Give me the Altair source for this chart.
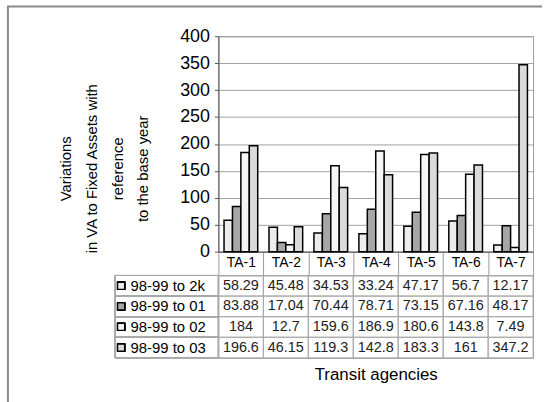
import altair as alt
import pandas as pd

# Transit agencies and the four comparison periods
agencies = ["TA-1", "TA-2", "TA-3", "TA-4", "TA-5", "TA-6", "TA-7"]
periods = ["98-99 to 2k", "98-99 to 01", "98-99 to 02", "98-99 to 03"]

# Variation in VA to fixed assets, per agency, for each period
v_2k = [58.29, 45.48, 34.53, 33.24, 47.17, 56.7, 12.17]
v_01 = [83.88, 17.04, 70.44, 78.71, 73.15, 67.16, 48.17]
v_02 = [184, 12.7, 159.6, 186.9, 180.6, 143.8, 7.49]
v_03 = [196.6, 46.15, 119.3, 142.8, 183.3, 161, 347.2]

y_ticks = [0, 50, 100, 150, 200, 250, 300, 350, 400]
fills = ["#ececec", "#a6a6a6", "#f6f6f6", "#dadada"]

rows = []
for period, vals in zip(periods, [v_2k, v_01, v_02, v_03]):
    for agency, v in zip(agencies, vals):
        rows.append({"agency": agency, "period": period, "value": v, "label": f"{v:g}"})
df = pd.DataFrame(rows)

FONT = "Liberation Sans, Arial, sans-serif"
W, H = 317, 217
TABLE_H = 83

fill_scale = alt.Scale(domain=periods, range=fills)

bars = alt.Chart(df).mark_bar(stroke="black", strokeWidth=1.5).encode(
    x=alt.X(
        "agency:N", sort=agencies,
        scale=alt.Scale(paddingInner=0, paddingOuter=0),
        axis=alt.Axis(
            title=None, labelAngle=0, tickBand="extent", tickSize=24,
            tickColor="#9a9a9a", labelPadding=-20, labelFontSize=14,
            labelFont=FONT, labelColor="black", domainColor="#555",
            labelBaseline="top",
        ),
    ),
    xOffset=alt.XOffset("period:N", sort=periods,
                        scale=alt.Scale(paddingInner=0, paddingOuter=0.67)),
    y=alt.Y(
        "value:Q",
        scale=alt.Scale(domain=[0, 400], nice=False),
        axis=alt.Axis(
            values=y_ticks, labelFontSize=18, labelFont=FONT, labelColor="black",
            tickSize=4, tickColor="#555", domainColor="#555", labelPadding=5,
            gridColor="#a0a0a0", gridWidth=1,
            title=["Variations", "in VA to Fixed Assets with", "reference", "to the base year"],
            titleFont=FONT, titleFontSize=15, titleFontWeight="normal",
            titleColor="black", titleLineHeight=26, titleAngle=270,
            titleAlign="center", titleBaseline="middle", titleX=-154, titleY=133,
        ),
    ),
    fill=alt.Fill("period:N", scale=fill_scale, legend=None),
)

# Outer frame lines of the figure
frame_df = pd.DataFrame({"k": [0]})
frame_top = alt.Chart(frame_df).mark_rule(color="#8a8a8a", strokeWidth=2).encode(
    x=alt.value(-212), x2=alt.value(326), y=alt.value(-30)
)
frame_left = alt.Chart(frame_df).mark_rule(color="#8a8a8a", strokeWidth=2).encode(
    x=alt.value(-212), y=alt.value(-31), y2=alt.value(370)
)

top = alt.layer(frame_top, frame_left, bars).properties(width=W, height=H)

# Data table under the plot
cells = alt.Chart(df).mark_rect(filled=False, stroke="#a8a8a8", strokeWidth=1).encode(
    x=alt.X(
        "agency:N", sort=agencies,
        scale=alt.Scale(paddingInner=0, paddingOuter=0),
        axis=alt.Axis(
            title="Transit agencies", titleFont=FONT, titleFontSize=17,
            titleFontWeight="normal", titleColor="black", titlePadding=9,
            labels=False, ticks=False, domain=False,
        ),
    ),
    y=alt.Y(
        "period:N", sort=periods,
        scale=alt.Scale(paddingInner=0, paddingOuter=0),
        axis=alt.Axis(
            title=None, labelAlign="left", labelPadding=89, ticks=False, tickSize=0,
            domain=False, labelFontSize=15, labelFont=FONT, labelColor="black",
        ),
    ),
)
label_cells = alt.Chart(df).mark_rect(filled=False, stroke="#a8a8a8", strokeWidth=1).encode(
    x=alt.value(-104), x2=alt.value(0),
    y=alt.Y("period:N", sort=periods),
)
swatches = alt.Chart(df).mark_square(size=50, stroke="black", strokeWidth=1.3, opacity=1).encode(
    x=alt.value(-98),
    y=alt.Y("period:N", sort=periods),
    fill=alt.Fill("period:N", scale=fill_scale, legend=None),
)
values = alt.Chart(df).mark_text(fontSize=14.5, font=FONT, color="#222").encode(
    x=alt.X("agency:N", sort=agencies),
    y=alt.Y("period:N", sort=periods),
    text="label:N",
)

table = alt.layer(cells, label_cells, swatches, values).properties(width=W, height=TABLE_H)

chart = alt.vconcat(top, table, spacing=24, bounds="flush").properties(
    padding={"left": 6, "top": 2, "right": 0, "bottom": 0},
    background="white",
).configure_view(stroke="#9a9a9a")

chart.save("out.html", embed_options={"renderer": "svg", "actions": False})
